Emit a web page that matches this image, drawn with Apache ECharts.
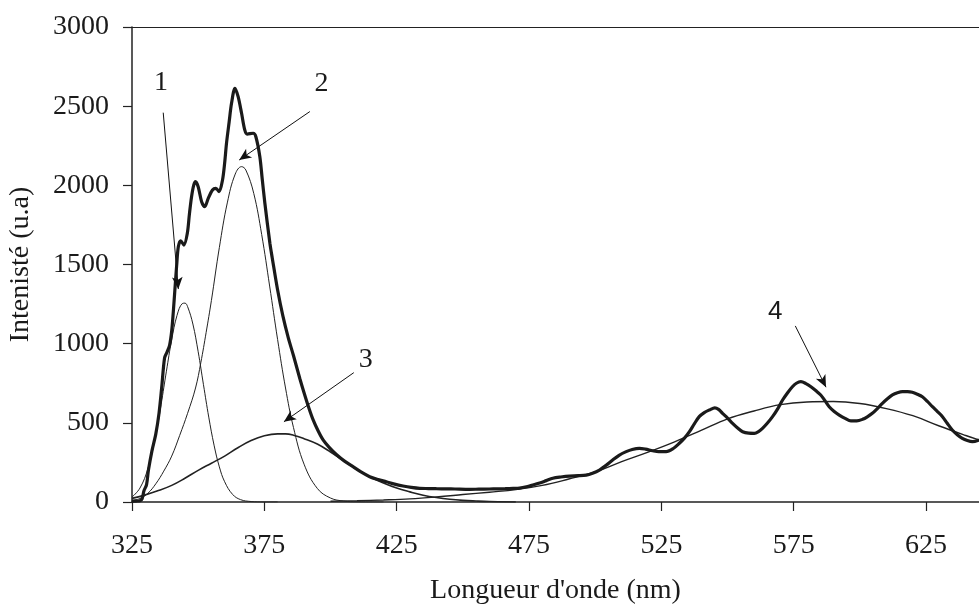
<!DOCTYPE html>
<html><head><meta charset="utf-8">
<script src="https://cdn.jsdelivr.net/npm/echarts@6/dist/echarts.min.js"></script>
<style>html,body{margin:0;padding:0;background:#fff}#c{width:979px;height:608px}</style>
</head><body><div id="c"></div>
<script>
// ---- data ----
const xTicks = [325, 375, 425, 475, 525, 575, 625];
const yTicks = [0, 500, 1000, 1500, 2000, 2500, 3000];
const xTitle = "Longueur d'onde (nm)";
const yTitle = "Intenisté (u.a)";

// measured spectrum [nm, intensity]
const spectrum = [
 [325,4],[326.5,6],[328,8],[328.8,20],[329.5,70],[330.5,110],[331.2,200],[332.5,320],[334,430],[335.2,560],[336.2,720],[337.3,910],
 [338.2,945],[339.2,990],[340,1080],[340.6,1200],[341.2,1340],[341.9,1500],[342.5,1612],[343.4,1650],[344.6,1623],[345.9,1697],
 [346.7,1820],[347.5,1928],[348.3,2000],[349,2023],[350,1991],[351.3,1897],[352.5,1865],[353.8,1918],[355.4,1971],[356.7,1981],
 [357.9,1960],[359.2,2034],[360,2140],[360.7,2265],[361.7,2400],[362.6,2518],[363.9,2613],[365.1,2560],[366.4,2455],[367.6,2350],
 [368.5,2324],[370.8,2329],[371.8,2307],[373.3,2181],[374.2,2040],[375.2,1887],[377.1,1634],[378,1540],[380,1340],[382,1175],
 [384,1040],[386,925],[388.4,780],[390,690],[391.7,600],[393.4,520],[395.3,450],[397.2,392],[399.5,345],[402.2,300],[405.3,258],[408.5,223],
 [411.5,190],[414.8,160],[418,142],[421.1,128],[424.2,113],[427.4,101],[430.5,92],[433.7,86],[437,85],[440,84],[444,83],[447,82],
 [452.5,80],[456,81],[460,82],[463,83],[466,84],[469,86],[471.4,88],[474,96],[476.4,107],[479,120],[481.5,135],[484,150],[487,158],
 [490.3,164],[493.5,166],[496.6,170],[499,182],[501.6,202],[504,230],[506.6,265],[509,295],[511.7,318],[514,332],[516.7,339],
 [519,334],[521.7,324],[524,318],[526.8,318],[529.5,338],[531.8,371],[533.8,405],[535.6,444],[537.5,495],[539.3,539],[541.2,565],
 [543.1,581],[545.2,595],[546.6,585],[548.1,560],[550,530],[551.9,497],[553.8,468],[555.7,444],[558,435],[560.1,434],[561.7,445],
 [563.2,465],[565,497],[567,539],[569,590],[570.8,644],[572.7,690],[574.5,728],[576,750],[577.7,760],[579.6,748],[581.5,728],
 [583.3,704],[585.2,676],[586.8,640],[588.4,602],[590.3,572],[592.2,549],[594.4,528],[596.6,512],[598.8,512],[601,522],[602.8,538],
 [604.7,560],[606.6,590],[608.5,623],[610.4,652],[612.3,676],[614.2,690],[616.1,697],[618,697],[619.8,693],[621.7,681],[623.6,665],
 [625.5,635],[627.4,602],[629.3,571],[631.2,539],[633,497],[634.9,455],[636.8,425],[638.7,402],[640.6,388],[642.5,381],[645,392]
];

// fitted components [nm, intensity]
const band1 = [
 [325,31],[328,88],[331,211],[334,425],[336,616],[338,826],[340,1025],[342,1178],[344,1253],[345,1256],[346,1234],[348,1124],
 [350,949],[352,741],[354,536],[356,359],[358,222],[360,128],[363,48],[366,15],[370,3],[375,0],[380,0]
];
const band2 = [
 [325,10],[328,22],[331,55],[334,115],[337,195],[340,290],[343,420],[346,560],[349,720],[351,880],[353,1070],[355,1273],[358,1607],
 [361,1889],[364,2071],[366.4,2118],[368,2097],[371,1949],[374,1689],[377,1364],[380,1027],[383,720],[386,471],[390,239],[395,86],
 [400,25],[405,6],[410,1],[420,0]
];
const band3 = [
 [325,23],[330,45],[335,72],[340,105],[345,150],[350,200],[355,245],[360,290],[365,343],[370,388],[375,418],[380,430],[383,430],
 [386,422],[390,400],[395,366],[400,316],[405,260],[410,205],[415,158],[420,120],[425,88],[430,64],[435,43],[440,28],[445,17],
 [450,10],[455,6],[460,3],[470,0]
];
const band4 = [
 [400,5],[410,8],[420,13],[430,20],[440,32],[450,47],[460,62],[470,78],[480,105],[490,145],[500,190],[510,255],[520,315],[530,380],
 [540,452],[550,525],[560,575],[570,615],[580,632],[590,635],[600,622],[610,590],[620,545],[630,480],[640,420],[645,392]
];

// annotations: [label, labelX, labelY, arrowFromX, arrowFromY, arrowToX, arrowToY] in data units
const notes = [
 ['1', 336.0, 2647, 336.8, 2459, 342.5, 1345],
 ['2', 396.6, 2645, 392.2, 2466, 365.5, 2160],
 ['3', 413.3, 897, 408.8, 817, 382.4, 507],
 ['4', 568.0, 1202, 575.6, 1112, 587.2, 725]
];

// ---- chart ----
const FONT = 'Liberation Serif';
const TXT = '#1a1a1a';
const chart = echarts.init(document.getElementById('c'), null, {renderer: 'canvas'});

const arrowLines = notes.map(n => [
  {coord: [n[3], n[4]], symbol: 'none'},
  {coord: [n[5], n[6]], symbol: 'arrow', symbolSize: [8, 12]}
]);

chart.setOption({
  animation: false,
  backgroundColor: '#fff',
  grid: {left: 132, right: 0, top: 27, bottom: 106, containLabel: false, outerBoundsMode: 'none'},
  xAxis: [{
    type: 'value', min: 325, max: 645, interval: 50,
    name: xTitle, nameLocation: 'middle', nameGap: 75,
    nameTextStyle: {fontFamily: FONT, fontSize: 28, color: TXT},
    axisLine: {show: true, onZero: false, lineStyle: {color: '#222', width: 1.5}},
    axisTick: {show: true, inside: false, length: 9, customValues: xTicks, lineStyle: {color: '#222', width: 1.2}},
    axisLabel: {customValues: xTicks, margin: 30, fontFamily: FONT, fontSize: 28, color: TXT},
    splitLine: {show: false}
  }, {
    type: 'value', min: 325, max: 645, position: 'top',
    axisLine: {show: true, onZero: false, lineStyle: {color: '#222', width: 1.2}},
    axisTick: {show: false}, axisLabel: {show: false}, splitLine: {show: false}
  }],
  yAxis: {
    type: 'value', min: 0, max: 3000, interval: 500,
    name: yTitle, nameLocation: 'middle', nameGap: 97,
    nameTextStyle: {fontFamily: FONT, fontSize: 28, color: TXT},
    axisLine: {show: true, lineStyle: {color: '#222', width: 1.5}},
    axisTick: {show: true, inside: false, length: 9, customValues: yTicks, lineStyle: {color: '#222', width: 1.2}},
    axisLabel: {customValues: yTicks, margin: 23, fontFamily: FONT, fontSize: 28, color: TXT,
      formatter: v => String(v)},
    splitLine: {show: false}
  },
  series: [
    {name: 'band1', type: 'line', data: band1, smooth: 0.4, showSymbol: false, silent: true,
     lineStyle: {color: '#222', width: 1}},
    {name: 'band2', type: 'line', data: band2, smooth: 0.4, showSymbol: false, silent: true,
     lineStyle: {color: '#222', width: 1}},
    {name: 'band3', type: 'line', data: band3, smooth: 0.4, showSymbol: false, silent: true,
     lineStyle: {color: '#222', width: 1.6}},
    {name: 'band4', type: 'line', data: band4, smooth: 0.4, showSymbol: false, silent: true,
     lineStyle: {color: '#222', width: 1.4}},
    {name: 'spectrum', type: 'line', data: spectrum, smooth: 0.3, showSymbol: false, silent: true,
     lineStyle: {color: '#1a1a1a', width: 3.2},
     markLine: {silent: true, animation: false, label: {show: false},
       lineStyle: {color: '#111', width: 1, type: 'solid'},
       emphasis: {disabled: true}, data: arrowLines}},
    {name: 'labels', type: 'scatter', symbolSize: 0, silent: true, itemStyle: {opacity: 1},
     data: notes.map(n => ({value: [n[1], n[2]], name: n[0],
       label: {show: true, position: 'inside', formatter: n[0], opacity: 1,
         fontFamily: n[0] === '4' ? 'Liberation Sans' : FONT, fontSize: n[0] === '4' ? 26 : 28, color: TXT}}))}
  ]
});
</script></body></html>
